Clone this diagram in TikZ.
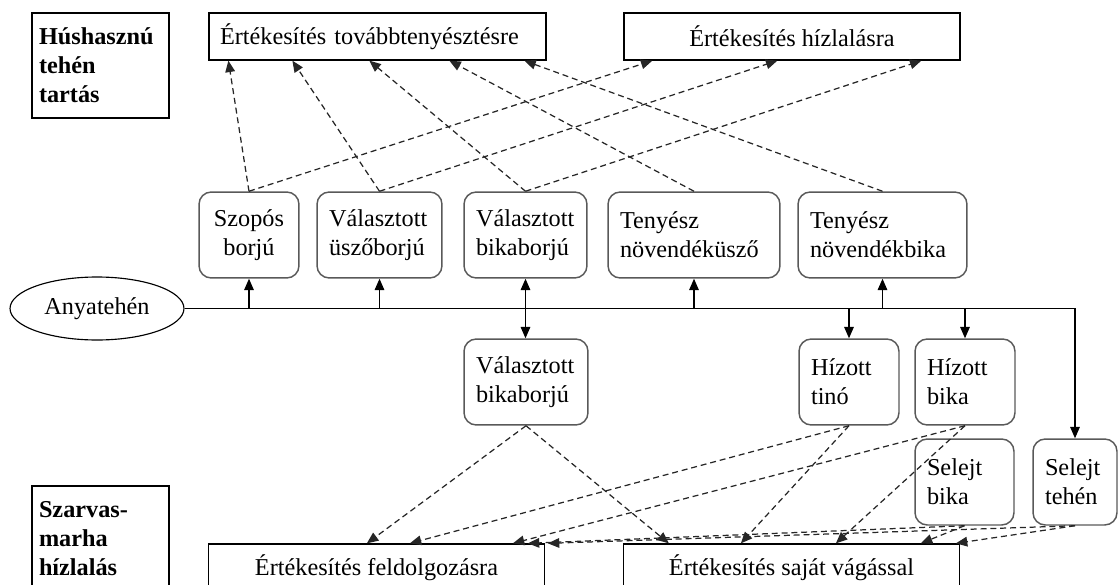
\documentclass[tikz,border=0pt]{standalone}
\usepackage{fontspec}
\setmainfont{Liberation Serif}
\usetikzlibrary{shapes.geometric,arrows.meta,calc}

\begin{document}
\begin{tikzpicture}[
  x=0.02cm, y=-0.02cm,
  every node/.style={font=\fontsize{13.8}{16.3}\selectfont},
  sell/.style={draw, line width=0.75pt, minimum width=6.72cm, minimum height=0.94cm, inner sep=0pt},
  head/.style={draw, line width=0.75pt, minimum width=2.74cm, minimum height=2.1cm, text width=2.46cm, inner xsep=0.14cm, align=left, font=\fontsize{13.8}{16.5}\selectfont\bfseries},
  stock/.style={draw=black!65, line width=0.85pt, rounded corners=7pt, minimum height=1.72cm, inner xsep=0.24cm, align=left, text width=#1},
  feed/.style={-{Triangle[length=6.5pt,width=5.5pt]}, line width=0.65pt},
  twoway/.style={{Triangle[length=6.5pt,width=5.5pt]}-{Triangle[length=6.5pt,width=5.5pt]}, line width=0.65pt},
  sale/.style={-{Triangle[length=6.5pt,width=5.5pt]}, line width=0.7pt, black!85, dash pattern=on 3.4pt off 2.2pt}
]
\useasboundingbox (0,0) rectangle (1120,585);
\clip (0,0) rectangle (1120,585);

% Sector labels
\node[head] (hus) at (100.5,65.5) {Húshasznú\\tehén\\tartás};
\node[head] (szarv) at (100.5,538.5) {Szarvas-\\marha\\hízlalás};

% Sales at the top
\node[sell, text width=6.3cm, inner xsep=0.22cm, align=left] (tovabb) at (377.5,36.5) {Értékesítés továbbtenyésztésre};
\node[sell] (hizl) at (792,36.5) {Értékesítés hízlalásra};

% Cow and her offspring
\node[draw, ellipse, line width=0.65pt, minimum width=3.48cm, minimum height=1.26cm, inner sep=0pt] (anya) at (97,308.5) {Anyatehén};
\node[stock=1.52cm, align=center] (szopos) at (249,235) {Szopós\\borjú};
\node[stock=2.02cm] (uszo) at (379.5,235) {Választott\\üszőborjú};
\node[stock=1.98cm] (bikab) at (525.5,235) {Választott\\bikaborjú};
\node[stock=2.96cm] (tnuszo) at (694,235) {Tenyész\\növendéküsző};
\node[stock=2.90cm] (tnbika) at (882.5,235) {Tenyész\\növendékbika};

% Fattening
\node[stock=2.0cm] (bikabh) at (526,382) {Választott\\bikaborjú};
\node[stock=1.52cm] (tino) at (849,382) {Hízott\\tinó};
\node[stock=1.52cm] (hbika) at (965,382) {Hízott\\bika};
\node[stock=1.5cm] (sbika) at (964.5,482) {Selejt\\bika};
\node[stock=1.2cm] (steh) at (1075,482) {Selejt\\tehén};

% Sales at the bottom
\node[sell] (feldolg) at (376.5,567.5) {Értékesítés feldolgozásra};
\node[sell] (vagas) at (791.5,567.5) {Értékesítés saját vágással};

% Main line from the cow
\draw[feed] (anya.east) -| (steh.north);
\draw[feed] (szopos.south |- anya.east) -- (szopos.south);
\draw[feed] (uszo.south |- anya.east) -- (uszo.south);
\draw[twoway] (bikab.south) -- (bikab.south |- bikabh.north);
\draw[feed] (tnuszo.south |- anya.east) -- (tnuszo.south);
\draw[feed] (tnbika.south |- anya.east) -- (tnbika.south);
\draw[feed] (tino.north |- anya.east) -- (tino.north);
\draw[feed] (hbika.north |- anya.east) -- (hbika.north);

% Sold for breeding / fattening
\draw[sale] (szopos.north) -- ($(tovabb.south west)+(20,0)$);
\draw[sale] (uszo.north) -- ($(tovabb.south west)+(84,0)$);
\draw[sale] (bikab.north) -- ($(tovabb.south west)+(161,0)$);
\draw[sale] (tnuszo.north) -- ($(tovabb.south west)+(241,0)$);
\draw[sale] (tnbika.north) -- ($(tovabb.south west)+(316,0)$);
\draw[sale] (szopos.north) -- ($(hizl.south west)+(29,0)$);
\draw[sale] (uszo.north) -- ($(hizl.south west)+(154,0)$);
\draw[sale] (bikab.north) -- ($(hizl.south west)+(298,0)$);

% Sold for processing / own slaughter
\draw[sale] (bikabh.south) -- ($(feldolg.north west)+(159,0)$);
\draw[sale] (bikabh.south) -- ($(vagas.north west)+(46,0)$);
\draw[sale] (tino.south) -- ($(feldolg.north west)+(202,0)$);
\draw[sale] (tino.south) -- ($(vagas.north west)+(118,0)$);
\draw[sale] (hbika.south) -- ($(feldolg.north west)+(305,0)$);
\draw[sale] (hbika.south) -- ($(vagas.north west)+(213,0)$);
\draw[sale] (sbika.south) -- ($(feldolg.north west)+(320,0)$);
\draw[sale] (sbika.south) -- ($(vagas.north west)+(298,0)$);
\draw[sale] (steh.south) -- ($(feldolg.north west)+(340,0)$);
\draw[sale] (steh.south) -- ($(vagas.north west)+(333,0)$);

\end{tikzpicture}
\end{document}
